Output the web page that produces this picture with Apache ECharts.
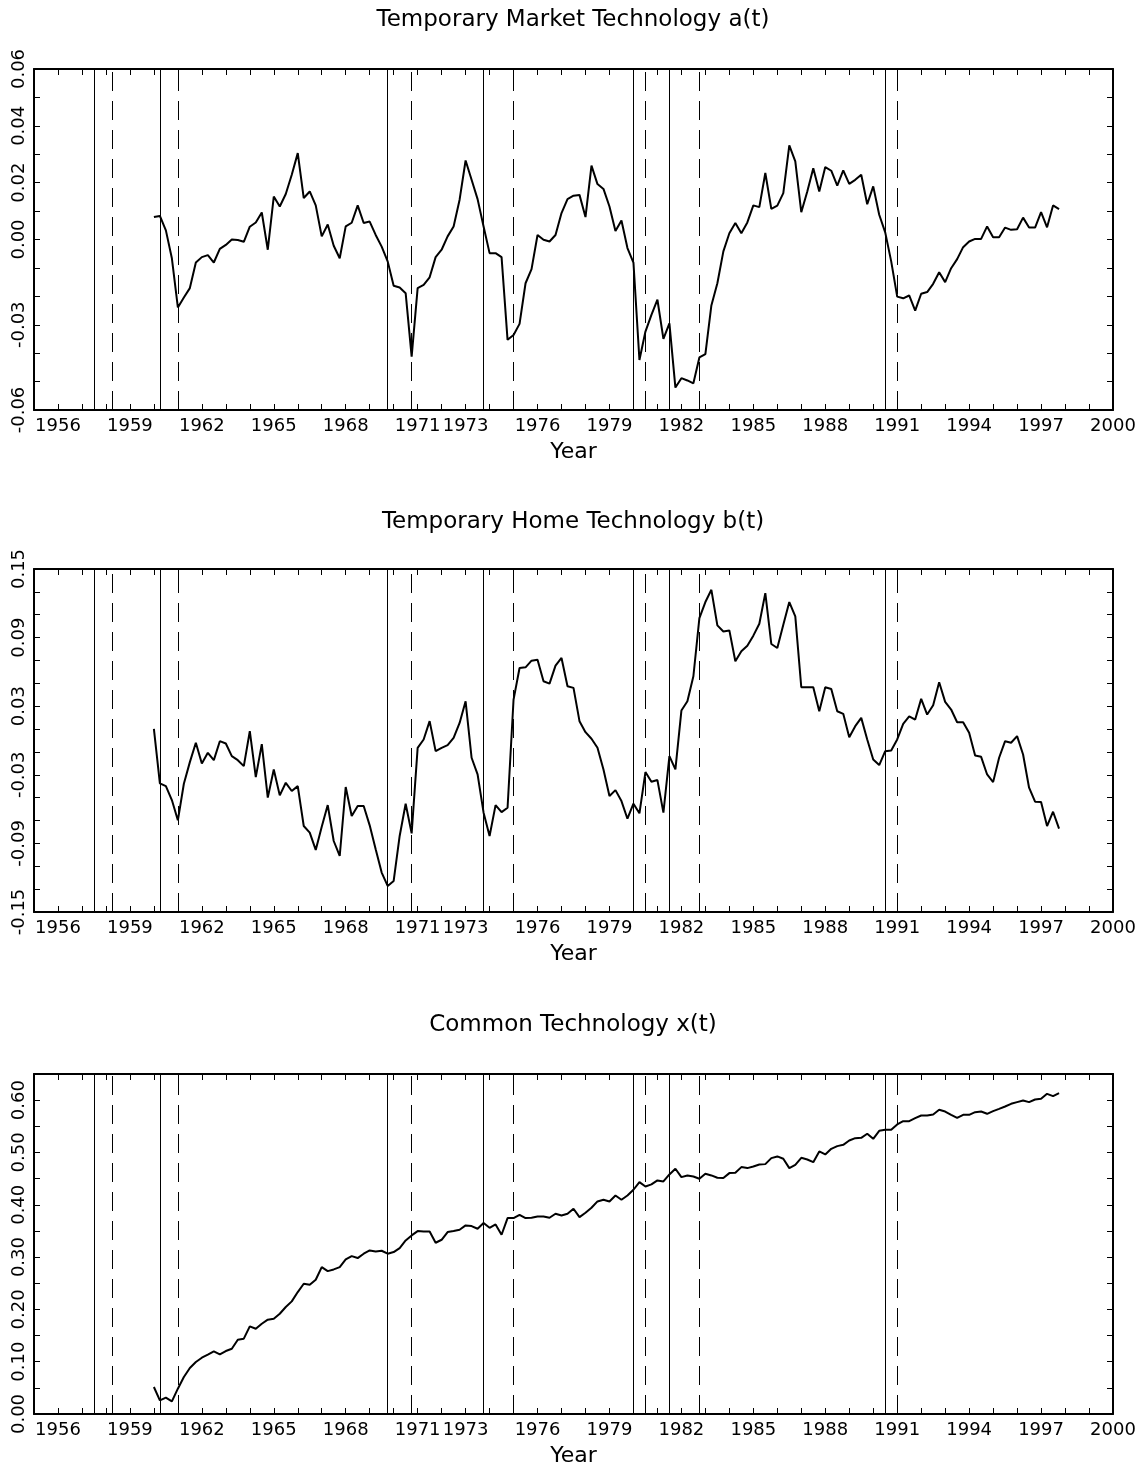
<!DOCTYPE html>
<html>
<head>
<meta charset="utf-8">
<script src="https://cdn.jsdelivr.net/npm/echarts@6/dist/echarts.min.js"></script>
<style>
html,body{margin:0;padding:0;background:#fff;}
#chart{width:1146px;height:1468px;}
</style>
</head>
<body>
<div id="chart"></div>
<script>
// Quarterly data, first observation 1960Q1 (1960.00), step 0.25 year
const firstQuarter = 1960.0;

const marketTech = [
0.0079,0.0083,0.0032,-0.0066,-0.0239,-0.0204,-0.0171,-0.0081,-0.0062,-0.0055,
-0.0081,-0.0033,-0.0019,0.0000,-0.0002,-0.0008,0.0045,0.0060,0.0095,-0.0036,
0.0151,0.0116,0.0160,0.0228,0.0304,0.0146,0.0169,0.0120,0.0011,0.0053,
-0.0022,-0.0066,0.0046,0.0059,0.0120,0.0058,0.0063,0.0016,-0.0025,-0.0077,
-0.0163,-0.0169,-0.0189,-0.0412,-0.0171,-0.0160,-0.0133,-0.0062,-0.0036,0.0011,
0.0046,0.0140,0.0278,0.0210,0.0142,0.0046,-0.0048,-0.0048,-0.0062,-0.0353,
-0.0336,-0.0297,-0.0154,-0.0104,0.0016,-0.0001,-0.0007,0.0016,0.0093,0.0142,
0.0154,0.0157,0.0079,0.0260,0.0195,0.0178,0.0116,0.0030,0.0067,-0.0030,
-0.0081,-0.0424,-0.0324,-0.0265,-0.0212,-0.0350,-0.0295,-0.0521,-0.0488,-0.0496,
-0.0506,-0.0415,-0.0403,-0.0232,-0.0154,-0.0042,0.0022,0.0058,0.0022,0.0060,
0.0120,0.0114,0.0234,0.0108,0.0119,0.0163,0.0331,0.0275,0.0096,0.0169,
0.0251,0.0169,0.0255,0.0242,0.0190,0.0243,0.0196,0.0210,0.0228,0.0124,
0.0187,0.0087,0.0025,-0.0077,-0.0201,-0.0207,-0.0197,-0.0250,-0.0191,-0.0185,
-0.0156,-0.0115,-0.0150,-0.0101,-0.0069,-0.0027,-0.0007,0.0002,0.0002,0.0046,
0.0008,0.0008,0.0042,0.0034,0.0036,0.0077,0.0042,0.0042,0.0096,0.0043,
0.0120,0.0107];

const homeTech = [
0.0102,-0.0375,-0.0399,-0.0521,-0.0698,-0.0378,-0.0189,-0.0020,-0.0201,-0.0108,
-0.0172,-0.0006,-0.0026,-0.0137,-0.0172,-0.0224,0.0081,-0.0320,-0.0032,-0.0500,
-0.0253,-0.0480,-0.0370,-0.0442,-0.0399,-0.0748,-0.0806,-0.0957,-0.0754,-0.0565,
-0.0879,-0.1010,-0.0407,-0.0661,-0.0573,-0.0573,-0.0742,-0.0952,-0.1155,-0.1272,
-0.1228,-0.0835,-0.0553,-0.0812,-0.0064,0.0009,0.0169,-0.0093,-0.0064,-0.0041,
0.0023,0.0154,0.0343,-0.0151,-0.0297,-0.0631,-0.0835,-0.0565,-0.0626,-0.0588,
0.0358,0.0634,0.0640,0.0698,0.0707,0.0518,0.0498,0.0655,0.0722,0.0474,
0.0460,0.0169,0.0073,0.0015,-0.0064,-0.0253,-0.0486,-0.0434,-0.0530,-0.0684,
-0.0553,-0.0637,-0.0276,-0.0361,-0.0346,-0.0631,-0.0137,-0.0253,0.0262,0.0343,
0.0562,0.1071,0.1211,0.1318,0.1007,0.0954,0.0963,0.0693,0.0780,0.0829,
0.0917,0.1021,0.1289,0.0844,0.0809,0.1013,0.1211,0.1085,0.0466,0.0466,
0.0466,0.0256,0.0466,0.0451,0.0256,0.0233,0.0029,0.0125,0.0198,0.0009,
-0.0166,-0.0215,-0.0093,-0.0087,0.0009,0.0146,0.0212,0.0183,0.0364,0.0227,
0.0308,0.0509,0.0338,0.0271,0.0160,0.0160,0.0067,-0.0131,-0.0143,-0.0297,
-0.0364,-0.0151,-0.0006,-0.0020,0.0038,-0.0122,-0.0413,-0.0535,-0.0538,-0.0748,
-0.0623,-0.0771];

const commonTech = [
0.0516,0.0261,0.0312,0.0242,0.0484,0.0707,0.0879,0.0994,0.1076,0.1134,
0.1197,0.1140,0.1204,0.1248,0.1420,0.1440,0.1675,0.1630,0.1726,0.1803,
0.1822,0.1917,0.2045,0.2153,0.2331,0.2490,0.2471,0.2567,0.2809,0.2732,
0.2764,0.2809,0.2955,0.3019,0.2981,0.3064,0.3127,0.3108,0.3121,0.3064,
0.3096,0.3172,0.3318,0.3414,0.3497,0.3490,0.3490,0.3274,0.3331,0.3478,
0.3497,0.3522,0.3605,0.3592,0.3541,0.3650,0.3560,0.3624,0.3427,0.3745,
0.3745,0.3809,0.3745,0.3752,0.3777,0.3777,0.3752,0.3828,0.3796,0.3828,
0.3924,0.3764,0.3847,0.3943,0.4064,0.4096,0.4064,0.4178,0.4096,0.4178,
0.4287,0.4433,0.4350,0.4389,0.4465,0.4446,0.4580,0.4688,0.4529,0.4561,
0.4541,0.4497,0.4592,0.4561,0.4516,0.4510,0.4605,0.4611,0.4720,0.4701,
0.4732,0.4771,0.4777,0.4892,0.4924,0.4879,0.4701,0.4764,0.4898,0.4866,
0.4815,0.5019,0.4962,0.5070,0.5121,0.5146,0.5229,0.5274,0.5280,0.5357,
0.5261,0.5414,0.5433,0.5433,0.5535,0.5599,0.5599,0.5656,0.5707,0.5707,
0.5726,0.5815,0.5783,0.5720,0.5662,0.5720,0.5720,0.5771,0.5783,0.5739,
0.5790,0.5834,0.5879,0.5930,0.5962,0.5994,0.5962,0.6013,0.6025,0.6121,
0.6076,0.6134];

// Business-cycle peaks (solid) and troughs (dashed)
const peaks = [1957.5, 1960.25, 1969.75, 1973.75, 1980.0, 1981.5, 1990.5];
const troughs = [1958.25, 1961.0, 1970.75, 1975.0, 1980.5, 1982.75, 1991.0];

const yearLabels = [1956,1959,1962,1965,1968,1971,1973,1976,1979,1982,1985,1988,1991,1994,1997,2000];

const titles = ['Temporary Market Technology a(t)','Temporary Home Technology b(t)','Common Technology x(t)'];
const yLabelsA = [-0.06,-0.03,0.00,0.02,0.04,0.06];
const yLabelsB = [-0.15,-0.09,-0.03,0.03,0.09,0.15];
const yLabelsX = [0.00,0.10,0.20,0.30,0.40,0.50,0.60];

const panels = [
  {data: marketTech, ymin:-0.06, ymax:0.06, ystep:0.01, ylabels:yLabelsA, top:69, height:341, titleTop:9},
  {data: homeTech,   ymin:-0.15, ymax:0.15, ystep:0.02, ylabels:yLabelsB, top:569, height:343, titleTop:511},
  {data: commonTech, ymin:0.00,  ymax:0.65, ystep:0.05, ylabels:yLabelsX, top:1074, height:342, titleTop:1014}
];

const FONT = 'DejaVu Sans';
const axisLine = {show:true, onZero:false, lineStyle:{color:'#000', width:2}};
const tick = {show:true, inside:true, length:6, lineStyle:{color:'#000', width:1}};

const grid = [], xAxis = [], yAxis = [], series = [], title = [];
panels.forEach((p, i) => {
  grid.push({left:34, right:33, top:p.top, height:p.height, containLabel:false});
  title.push({text:titles[i], left:'center', top:p.titleTop, padding:0,
    textStyle:{fontFamily:FONT, fontSize:23, fontWeight:'normal', color:'#000'}});
  xAxis.push({type:'value', gridIndex:i, position:'bottom', min:1955, max:2000, interval:1,
    axisLine, axisTick:tick, splitLine:{show:false},
    axisLabel:{customValues:yearLabels, margin:7, fontFamily:FONT, fontSize:18, color:'#000', formatter:v=>String(v)},
    name:'Year', nameLocation:'middle', nameGap:31,
    nameTextStyle:{fontFamily:FONT, fontSize:22, color:'#000'}});
  xAxis.push({type:'value', gridIndex:i, position:'top', min:1955, max:2000, interval:1,
    axisLine, axisTick:tick, splitLine:{show:false}, axisLabel:{show:false}});
  yAxis.push({type:'value', gridIndex:i, position:'left', min:p.ymin, max:p.ymax, interval:p.ystep,
    axisLine, axisTick:tick, splitLine:{show:false},
    axisLabel:{customValues:p.ylabels, rotate:90, margin:6, fontFamily:FONT, fontSize:18, color:'#000',
      formatter:v=>v.toFixed(2)}});
  yAxis.push({type:'value', gridIndex:i, position:'right', min:p.ymin, max:p.ymax, interval:p.ystep,
    axisLine, axisTick:tick, splitLine:{show:false}, axisLabel:{show:false}});
  series.push({
    type:'line', xAxisIndex:2*i, yAxisIndex:2*i,
    data: p.data.map((v, k) => [firstQuarter + k*0.25, v]),
    showSymbol:false, symbol:'none', smooth:false,
    lineStyle:{color:'#000', width:2},
    z:3,
    markLine:{
      silent:true, symbol:['none','none'], label:{show:false}, animation:false,
      lineStyle:{color:'#000', width:1},
      data:[
        ...peaks.map(v => ({xAxis:v, lineStyle:{type:'solid', color:'#000', width:1}})),
        ...troughs.map(v => ({xAxis:v, lineStyle:{type:[19,10], color:'#000', width:1}}))
      ]
    }
  });
});

const chart = echarts.init(document.getElementById('chart'), null, {renderer:'canvas'});
chart.setOption({
  animation:false,
  backgroundColor:'#fff',
  title, grid, xAxis, yAxis, series
});
</script>
</body>
</html>
